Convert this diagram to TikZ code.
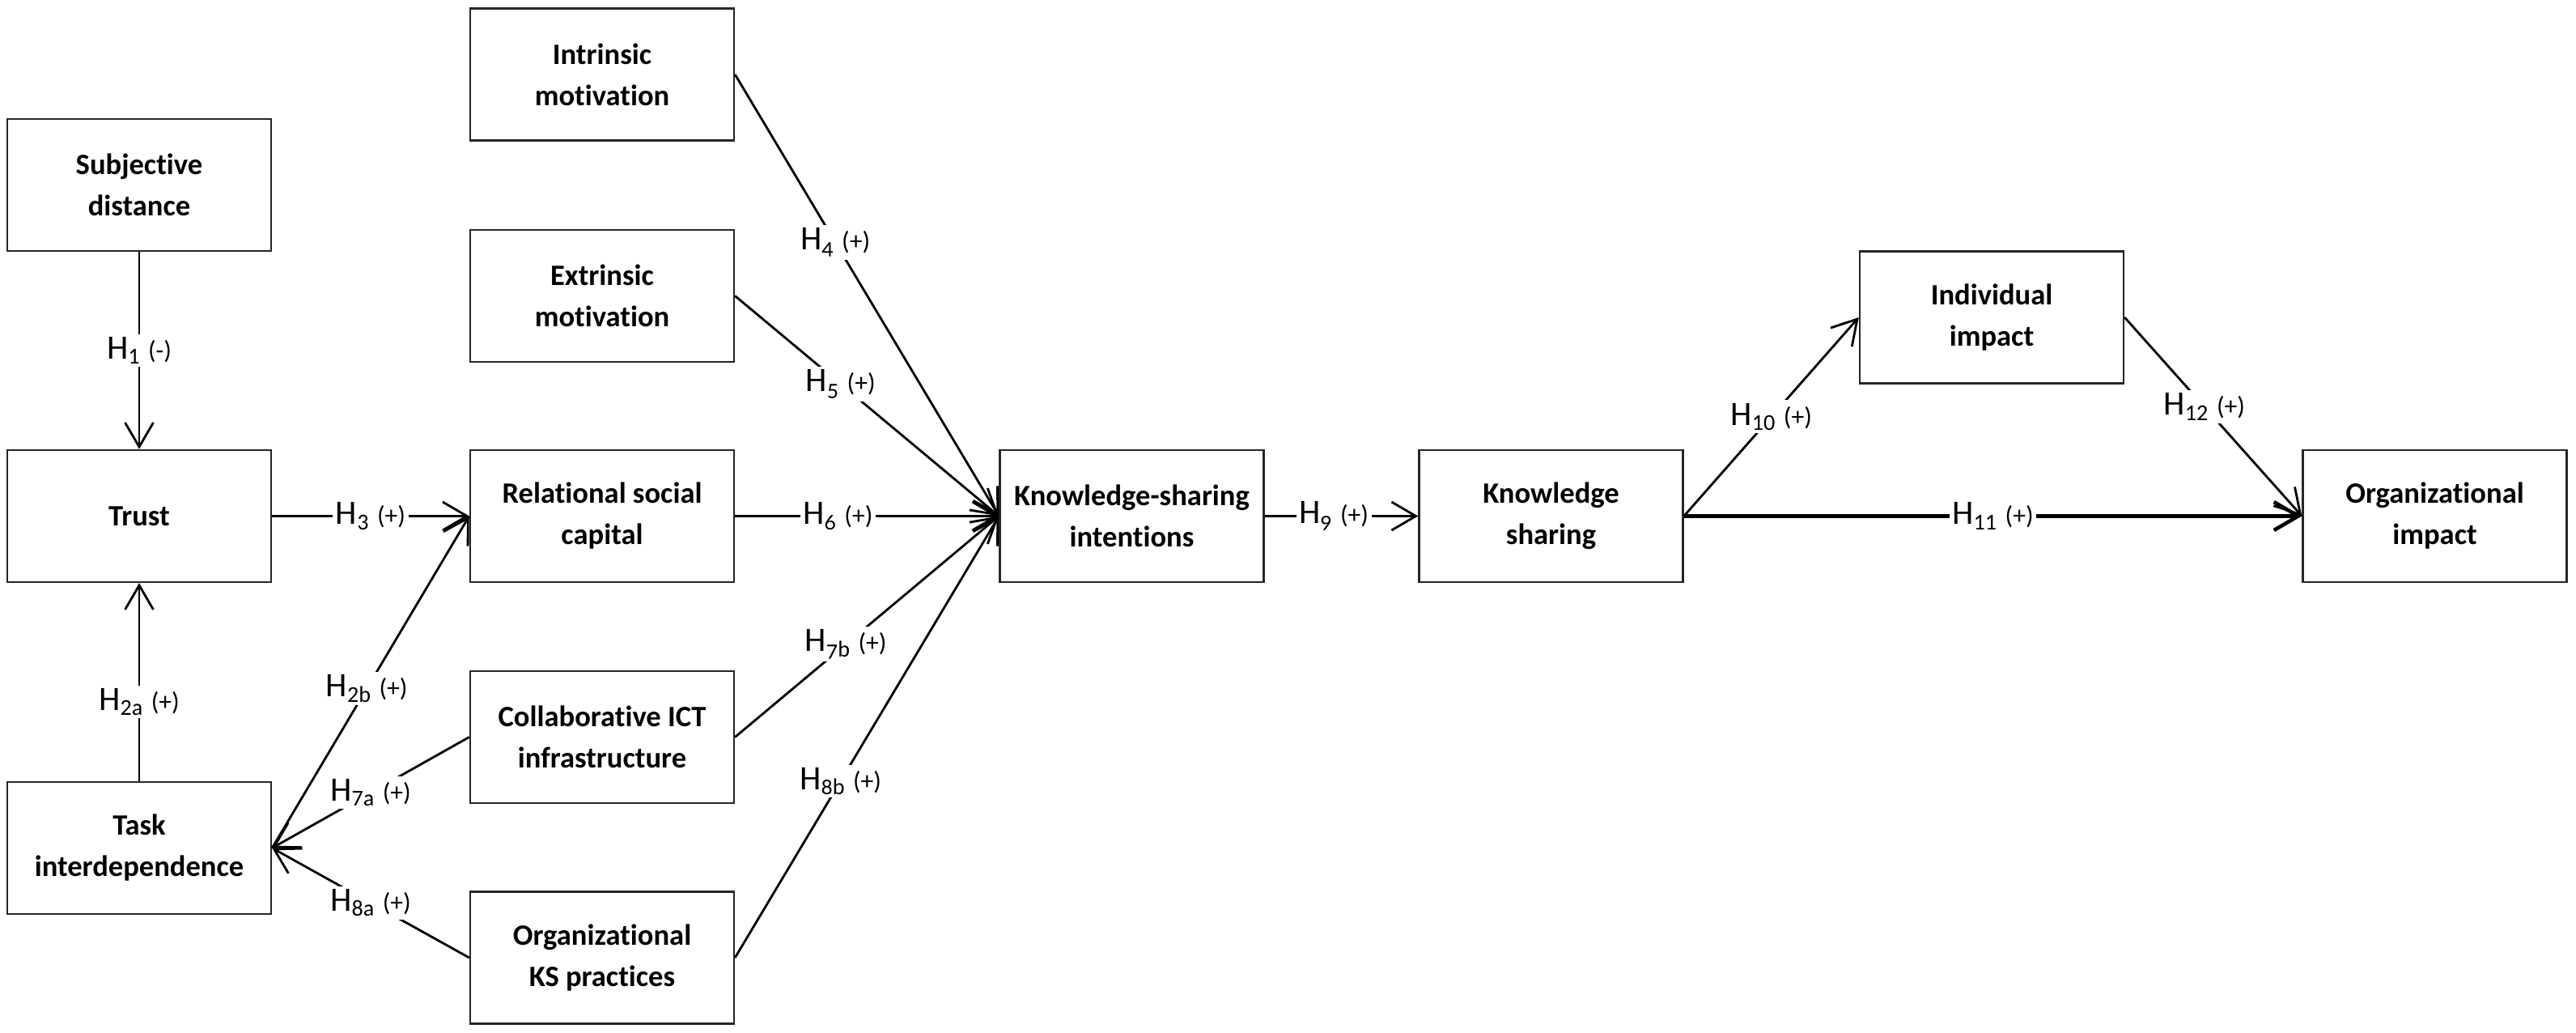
\documentclass[tikz,border=0pt]{standalone}
\usepackage{fontspec}
\setmainfont[Ligatures=NoCommon]{Carlito}
\newfontfamily\oldfig[Numbers=OldStyle,Ligatures=NoCommon]{Carlito}
\usetikzlibrary{arrows.meta}

\tikzset{box/.style={draw=black!85, rectangle, line width=0.7pt, minimum width=3.26cm, minimum height=1.63cm, align=center, font=\bfseries\fontsize{10.4}{14.5}\selectfont}}
\tikzset{arr/.style={line width=0.8pt, -{Straight Barb[length=3mm,width=3.5mm]}}}
\tikzset{hyp/.style={fill=white, inner sep=1pt, font=\fontsize{12}{14}\selectfont}}

\newcommand{\hlab}[2]{H\textsubscript{#1}\hspace{2.5pt}{\fontsize{9}{10}\selectfont(#2)}}
\newcommand{\hlabo}[2]{{\oldfig H\textsubscript{#1}\hspace{2.5pt}{\fontsize{9}{10}\selectfont(#2)}}}

\begin{document}
\begin{tikzpicture}
\useasboundingbox (0,0) rectangle (31.83,12.75);
% left column
\node[box] (subj) at (1.72,10.465) {Subjective\\distance};
\node[box] (trust) at (1.72,6.375) {Trust};
\node[box] (task) at (1.72,2.275) {Task\\interdependence};
% middle column
\node[box] (intr) at (7.44,11.83) {Intrinsic\\motivation};
\node[box] (extr) at (7.44,9.095) {Extrinsic\\motivation};
\node[box] (rel) at (7.44,6.375) {Relational social\\capital};
\node[box] (ict) at (7.44,3.645) {Collaborative ICT\\infrastructure};
\node[box] (orgks) at (7.44,0.92) {Organizational\\KS practices};
% right part
\node[box] (ksi) at (13.985,6.375) {Knowledge-sharing\\intentions};
\node[box] (ks) at (19.165,6.375) {Knowledge\\sharing};
\node[box] (indiv) at (24.61,8.83) {Individual\\impact};
\node[box] (orgimp) at (30.085,6.375) {Organizational\\impact};

\draw[arr] (subj) -- node[hyp]{\hlab{1}{-}} (trust);
\draw[arr] (task) -- node[hyp,pos=0.4]{\hlab{2a}{+}} (trust);
\draw[arr] (trust) -- node[hyp]{\hlab{3}{+}} (rel);
\draw[arr] (task.east) -- node[hyp,pos=0.48]{\hlab{2b}{+}} (rel.west);
\draw[arr] (ict.west) -- node[hyp]{\hlab{7a}{+}} (task.east);
\draw[arr] (orgks.west) -- node[hyp]{\hlab{8a}{+}} (task.east);

\draw[arr] (intr.east) -- node[hyp,pos=0.38]{\hlabo{4}{+}} (ksi.west);
\draw[arr] (extr.east) -- node[hyp,pos=0.4]{\hlabo{5}{+}} (ksi.west);
\draw[arr] (rel.east) -- node[hyp,pos=0.39]{\hlabo{6}{+}} (ksi.west);
\draw[arr] (ict.east) -- node[hyp,pos=0.42]{\hlabo{7b}{+}} (ksi.west);
\draw[arr] (orgks.east) -- node[hyp,pos=0.4]{\hlabo{8b}{+}} (ksi.west);
\draw[arr] (ksi) -- node[hyp,pos=0.45]{\hlabo{9}{+}} (ks);

\draw[arr] (ks.east) -- node[hyp]{\hlab{10}{+}} (indiv.west);
\draw[arr, line width=1.3pt] (ks) -- node[hyp]{\hlab{11}{+}} (orgimp);
\draw[arr] (indiv.east) -- node[hyp,pos=0.45]{\hlab{12}{+}} (orgimp.west);
\end{tikzpicture}
\end{document}
